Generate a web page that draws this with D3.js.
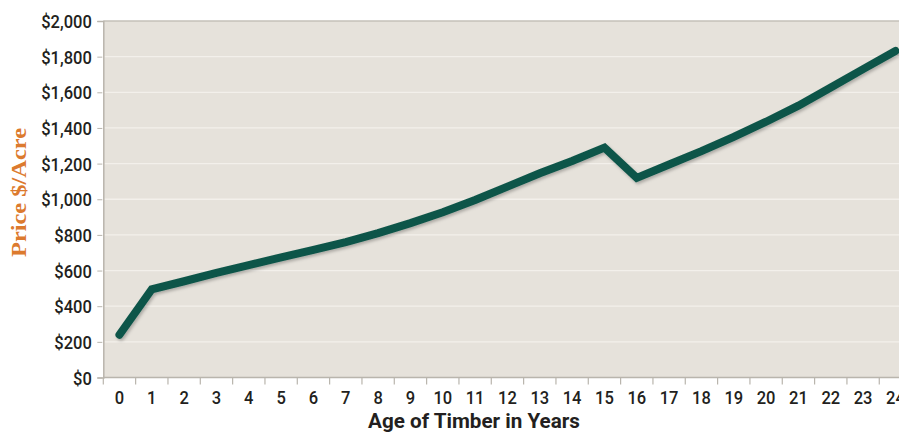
<!DOCTYPE html>
<html>
<head>
<meta charset="utf-8">
<script src="https://cdn.jsdelivr.net/npm/d3@7"></script>
<style>
  html, body { margin: 0; padding: 0; background: #ffffff; overflow: hidden; }
  svg { display: block; }
</style>
</head>
<body>
<svg id="chart" width="899" height="443"></svg>
<script>
// ---- data ----
const ages = [0,1,2,3,4,5,6,7,8,9,10,11,12,13,14,15,16,17,18,19,20,21,22,23,24];
const prices = [240,495,540,587,631,674,716,760,810,866,927,996,1071,1146,1215,1290,1120,1195,1270,1350,1435,1525,1627,1730,1832];
const yTicks = [0,200,400,600,800,1000,1200,1400,1600,1800,2000];
const xTitle = "Age of Timber in Years";
const yTitle = "Price $/Acre";

const svg = d3.select("#chart");
const mLeft = 103.3, mTop = 21, mBottom = 377.5, mRight = 911.6;

const x = d3.scaleBand().domain(ages).range([mLeft, mRight]).padding(0);
const y = d3.scaleLinear().domain([0, 2000]).range([mBottom, mTop]);

const sans = "Roboto, 'Liberation Sans', sans-serif";
const sx = 0.87; // horizontal condensing of label text

// plot background
svg.append("rect")
  .attr("x", mLeft).attr("y", mTop)
  .attr("width", mRight - mLeft).attr("height", mBottom - mTop)
  .attr("fill", "#e6e2db");

// gridlines
svg.append("g").selectAll("line")
  .data(yTicks.filter(d => d > 0 && d < 2000))
  .join("line")
  .attr("x1", mLeft + 1).attr("x2", mRight)
  .attr("y1", d => y(d)).attr("y2", d => y(d))
  .attr("stroke", "#f3f0eb").attr("stroke-width", 1.3);

// top border
svg.append("line")
  .attr("x1", mLeft).attr("x2", mRight)
  .attr("y1", mTop).attr("y2", mTop)
  .attr("stroke", "#c4c0b8").attr("stroke-width", 1.5);

// y axis
const yAxis = svg.append("g")
  .attr("transform", `translate(${mLeft},0)`)
  .call(d3.axisLeft(y).tickValues(yTicks).tickSize(6).tickPadding(5)
    .tickFormat(d => "$" + d3.format(",")(d)));
yAxis.select(".domain").attr("stroke", "#b9b5ad").attr("stroke-width", 1.5);
yAxis.selectAll(".tick line").attr("stroke", "#b9b5ad").attr("x2", -6).attr("x1", -1);
yAxis.selectAll(".tick text")
  .attr("font-family", sans).attr("font-size", 19).attr("font-weight", 500).attr("fill", "#231f20")
  .attr("x", -11.5 / sx)
  .attr("transform", `scale(${sx},1)`)
  .attr("dy", "0.35em");

// x axis (ticks at band boundaries)
const xAxisG = svg.append("g").attr("transform", `translate(0,${mBottom})`);
xAxisG.append("line")
  .attr("x1", mLeft).attr("x2", mRight)
  .attr("stroke", "#b9b5ad").attr("stroke-width", 1.5);
xAxisG.selectAll("line.tk")
  .data(ages)
  .join("line").attr("class", "tk")
  .attr("x1", d => x(d)).attr("x2", d => x(d))
  .attr("y1", 0).attr("y2", 7)
  .attr("stroke", "#b9b5ad").attr("stroke-width", 1.2);
xAxisG.selectAll("text")
  .data(ages)
  .join("text")
  .attr("transform", d => `translate(${x(d) + x.bandwidth() / 2},26.5) scale(${sx},1)`)
  .attr("text-anchor", "middle")
  .attr("font-family", sans).attr("font-size", 19).attr("font-weight", 500).attr("fill", "#231f20")
  .text(d => d);

// shadow filter
const defs = svg.append("defs");
const f = defs.append("filter").attr("id", "sh").attr("x", "-5%").attr("y", "-20%").attr("width", "110%").attr("height", "140%");
f.append("feDropShadow").attr("dx", 1.5).attr("dy", 2).attr("stdDeviation", 1.5)
  .attr("flood-color", "#000").attr("flood-opacity", 0.25);

// line
const line = d3.line()
  .x((d, i) => x(ages[i]) + x.bandwidth() / 2)
  .y(d => y(d));
svg.append("path")
  .datum(prices)
  .attr("d", line)
  .attr("fill", "none")
  .attr("stroke", "#0f5549")
  .attr("stroke-width", 8)
  .attr("stroke-linejoin", "miter")
  .attr("stroke-linecap", "round")
  .attr("filter", "url(#sh)");

// titles
svg.append("text")
  .attr("x", 368).attr("y", 427.5)
  .attr("textLength", 212).attr("lengthAdjust", "spacingAndGlyphs")
  .attr("font-family", sans).attr("font-weight", "bold")
  .attr("font-size", 21).attr("fill", "#231f20")
  .text(xTitle);

svg.append("text")
  .attr("transform", "translate(26,257) rotate(-90)")
  .attr("textLength", 129).attr("lengthAdjust", "spacingAndGlyphs")
  .attr("font-family", "'Liberation Serif', 'Times New Roman', serif")
  .attr("font-weight", "bold")
  .attr("font-size", 21.5).attr("fill", "#dc7a2e")
  .text(yTitle);
</script>
</body>
</html>
